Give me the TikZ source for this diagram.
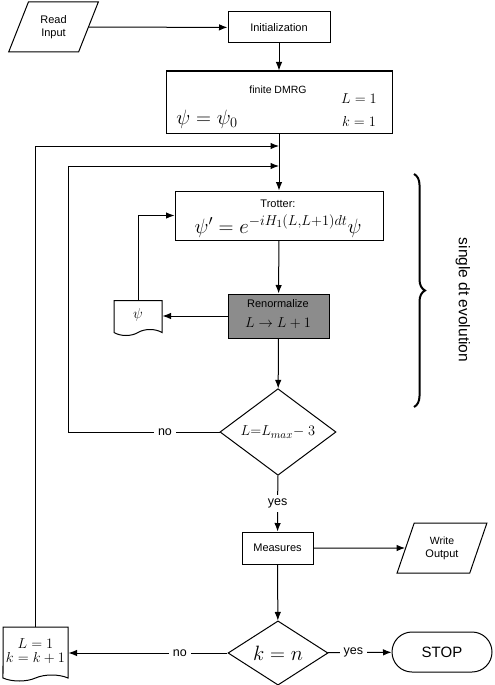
\documentclass[tikz,border=0pt]{standalone}
\usepackage{fontspec}
\newfontfamily\helv{Liberation Sans}
\usetikzlibrary{shapes.geometric,shapes.symbols,arrows.meta,decorations.pathreplacing}

\begin{document}
\begin{tikzpicture}[x=1pt,y=-1pt,
    every node/.style={font=\helv\fontsize{11}{13}\selectfont},
    box/.style={draw,line width=1pt,inner sep=0pt},
    io/.style={draw,line width=1pt,trapezium,trapezium left angle=66,trapezium right angle=114,
        trapezium stretches=true,minimum width=90,minimum height=50,inner sep=0pt,align=center},
    doc/.style={draw,line width=1pt,tape,tape bend top=none,tape bend height=6pt,inner sep=0pt,align=center},
    cond/.style={draw,line width=1pt,diamond,inner sep=0pt},
    flow/.style={line width=1pt,-{Latex[length=8.5pt,width=6.5pt]}},
    lab/.style={fill=white,inner sep=4pt,font=\helv\fontsize{12.5}{14}\selectfont}]

% Fix picture size to the reference
\useasboundingbox (0,0) rectangle (495,685);

% Input and setup
\node[io] (read) at (53.5,27) {Read\\Input};
\node[box,minimum width=102,minimum height=31] (init) at (279,27.5) {Initialization};
\node[box,minimum width=226,minimum height=62] (dmrg) at (279,102) {};
\node (dmrgtitle) at (278,90) {\fontsize{10.5}{12}\selectfont finite DMRG};
\node (dmrgL) at (359,99) {\fontsize{15.5}{17}\selectfont $L=1$};
\node (dmrgk) at (359,121) {\fontsize{15.5}{17}\selectfont $k=1$};
\node (dmrgpsi) at (207,119) {\fontsize{20}{22}\selectfont $\psi=\psi_0$};

% Time step
\node[box,minimum width=208,minimum height=49] (trot) at (279,215.5) {};
\node (trottitle) at (278,204) {Trotter:};
\node (trotpsi) at (278,226) {\fontsize{21.5}{24}\selectfont $\psi'=e^{-iH_1(L,L+1)dt}\psi$};
\node[box,fill=black!45,minimum width=101,minimum height=44] (renorm) at (278.5,316) {};
\node (renormtitle) at (278,304) {Renormalize};
\node (renormL) at (278,323) {\fontsize{14.5}{16}\selectfont $L\to L+1$};
\node[doc,minimum width=48,minimum height=35] (psi) at (138,315) {\fontsize{15}{17}\selectfont $\psi$};
\node[cond,minimum width=116,minimum height=68] (chkL) at (278,432) {\fontsize{15}{17}\selectfont $L{=}L_{max}{-}\;3$};

% Output and stop
\node[box,minimum width=71,minimum height=32] (meas) at (277.5,548) {Measures};
\node[io] (wout) at (442,548) {\fontsize{10.5}{12.5}\selectfont Write\\Output};
\node[cond,minimum width=100,minimum height=60] (chkk) at (278,653) {\fontsize{21}{23}\selectfont $k=n$};
\node[draw,line width=1pt,rounded corners=20pt,minimum width=100,minimum height=40] (stop) at (442,652)
    {\fontsize{15}{17}\selectfont STOP};
\node[doc,minimum width=65,minimum height=54] (reset) at (35.5,651)
    {\fontsize{13.5}{19}\selectfont $L=1$\\[1pt]\fontsize{13.5}{19}\selectfont $k=k+1$};

% Loop entry points
\coordinate (outerin) at (279,146);
\coordinate (innerin) at (279,166);
\coordinate (innercorner) at (68,432);

% Main connectors
\draw[flow] (read) -- (init);
\draw[flow] (init) -- (dmrg);
\draw[flow] (dmrg) -- (trot);
\draw[flow] (trot) -- (renorm);
\draw[flow] (renorm.west) -- (renorm.west -| psi.east);
\draw[flow] (psi.north) |- (trot.west);
\draw[flow] (renorm) -- (chkL);
\draw[flow] (chkL) -- node[lab] {yes} (meas);
\draw[flow] (meas) -- (wout);
\draw[flow] (meas) -- (chkk);
\draw[flow] (chkk) -- node[lab,pos=0.4] {yes} (stop);
\draw[flow] (chkk) -- node[lab,pos=0.3] {no} (chkk.west -| reset.east);

% Loops back
\draw[flow] (chkL.west) -- node[lab,pos=0.36] {no} (innercorner) |- (innerin);
\draw[flow] (reset.north) |- (outerin);

% Brace with label
\draw[line width=2pt,decorate,decoration={brace,amplitude=11pt}] (414,174) -- (414,407);
\node[rotate=-90,font=\helv\fontsize{15.5}{17}\selectfont] (evolabel) at (463,300) {single dt evolution};

\end{tikzpicture}
\end{document}
